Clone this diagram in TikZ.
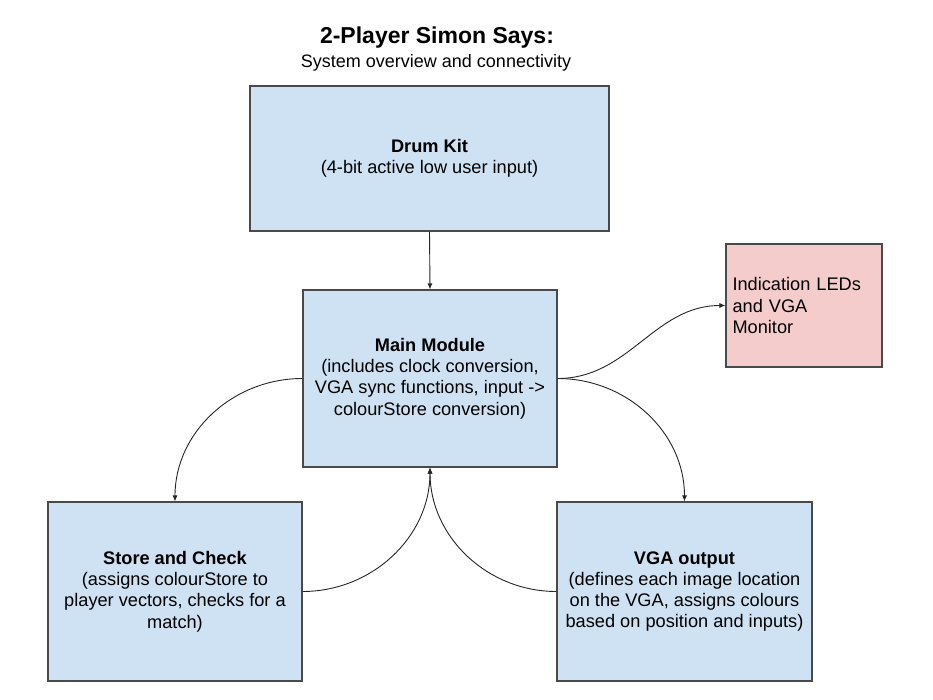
\documentclass[tikz,border=0pt]{standalone}
\usepackage{fontspec}
\setmainfont{Liberation Sans}
\usetikzlibrary{arrows.meta}
\definecolor{boxblue}{HTML}{CFE2F3}
\definecolor{boxpink}{HTML}{F4CCCC}
\definecolor{edgegray}{HTML}{4A4A4A}
\begin{document}
\begin{tikzpicture}[x=1pt,y=-1pt,
  blk/.style={draw=edgegray,line width=1.1pt,fill=boxblue,align=center,
    font=\fontsize{18.2}{21.3}\selectfont,inner sep=0pt},
  conn/.style={draw=black!85,line width=0.9pt,-{Latex[length=6pt,width=5pt]}}]
\useasboundingbox (0,0) rectangle (933,700);
\fill[white] (0,0) rectangle (933,700);
\node[font=\bfseries\fontsize{23}{27}\selectfont] (title) at (437,38) {2-Player Simon Says:};
\node[font=\fontsize{18}{21}\selectfont] (sub) at (436,63) {System overview and connectivity};
\node[blk,minimum width=359pt,minimum height=145pt] (drum) at (429.5,158.5)
  {\textbf{Drum Kit}\\(4-bit active low user input)};
\node[blk,minimum width=254pt,minimum height=177pt] (main) at (430,378.5)
  {\textbf{Main Module}\\(includes clock conversion,\\VGA sync functions, input ->\\colourStore conversion)};
\node[blk,fill=boxpink,minimum width=156pt,minimum height=123pt,align=left,
  text width=143pt] (led) at (804,305.5)
  {Indication LEDs\\and VGA\\Monitor};
\node[blk,minimum width=254pt,minimum height=179pt] (store) at (175,591.5)
  {\textbf{Store and Check}\\(assigns colourStore to\\player vectors, checks for a\\match)};
\node[blk,minimum width=255pt,minimum height=179pt] (vga) at (684.5,591.5)
  {\textbf{VGA output}\\(defines each image location\\on the VGA, assigns colours\\based on position and inputs)};
\draw[conn] (drum.south) -- (main.north);
\draw[conn] (main.west) to[out=180,in=90] (store.north);
\draw[conn] (main.east) to[out=0,in=90] (vga.north);
\draw[conn] (main.east) to[out=0,in=180] (led.west);
\draw[conn] (store.east) to[out=0,in=-90] (main.south);
\draw[conn] (vga.west) to[out=180,in=-90] (main.south);
\end{tikzpicture}
\end{document}
